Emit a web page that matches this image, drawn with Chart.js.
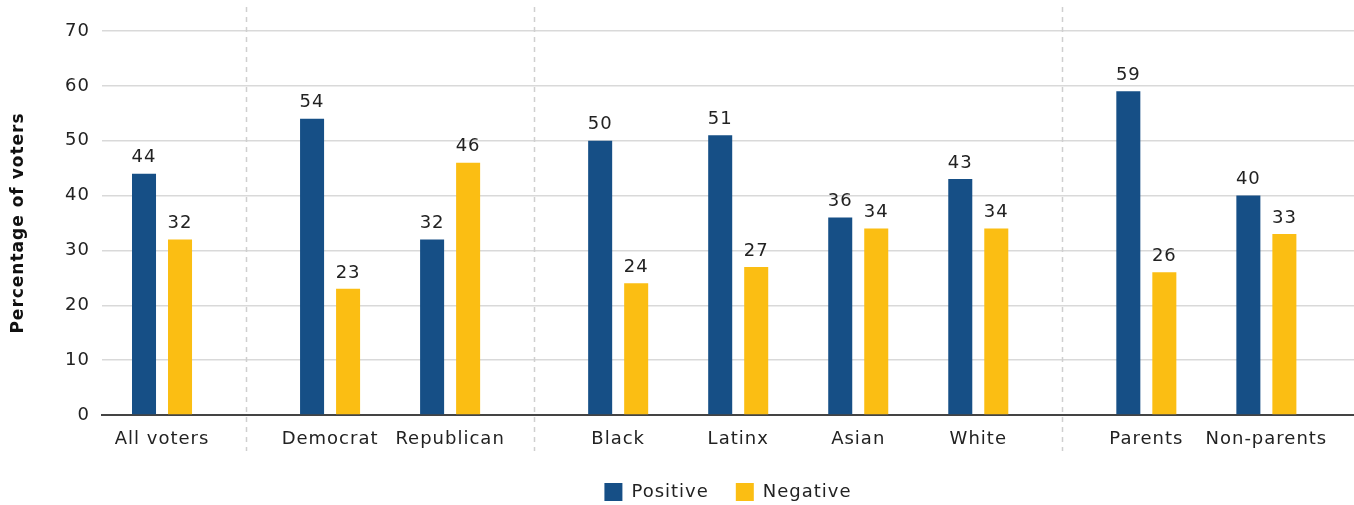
<!DOCTYPE html>
<html>
<head>
<meta charset="utf-8">
<script src="https://cdn.jsdelivr.net/npm/chart.js@4.4.1/dist/chart.umd.min.js"></script>
<style>
  html, body { margin: 0; padding: 0; background: #fff; }
  #wrap { width: 1354px; height: 505px; }
</style>
</head>
<body>
<div id="wrap"><canvas id="grafica"></canvas></div>
<script>
// datos
const categories = ['All voters', 'Democrat', 'Republican', 'Black', 'Latinx', 'Asian', 'White', 'Parents', 'Non-parents'];
const groupSizes = [1, 2, 4, 2];
const positive = [44, 54, 32, 50, 51, 36, 43, 59, 40];
const negative = [32, 23, 46, 24, 27, 34, 34, 26, 33];
const yTicks = [0, 10, 20, 30, 40, 50, 60, 70];

const FONT = '"DejaVu Sans", sans-serif';
const TEXT = '#222';

// posicion de cada categoria en el eje x (grupos separados por un hueco)
const GAP = 0.4;
const pos = [];
const separators = [];
let idx = 0;
groupSizes.forEach((n, g) => {
    for (let i = 0; i < n; i++) {
        pos.push(idx + g * GAP);
        idx++;
    }
    if (g < groupSizes.length - 1) {
        separators.push(idx - 1 + g * GAP + (1 + GAP) / 2);
    }
});

const toPoints = arr => arr.map((v, i) => ({ x: pos[i], y: v }));

// un poco de espacio entre letras, como en el original
const espaciado = {
    id: 'espaciado',
    beforeLayout(chart) { chart.ctx.letterSpacing = '1px'; },
    beforeDraw(chart) { chart.ctx.letterSpacing = '1px'; }
};

// leyenda centrada sobre el area del grafico, no sobre todo el lienzo
const centrarLeyenda = {
    id: 'centrarLeyenda',
    afterLayout(chart) {
        const a = chart.chartArea;
        const shift = (a.left + a.right) / 2 - chart.width / 2;
        chart.legend.left += shift;
        chart.legend.right += shift;
    }
};

// lineas verticales discontinuas entre grupos
const separadores = {
    id: 'separadores',
    beforeDatasetsDraw(chart) {
        const ctx = chart.ctx;
        const xs = chart.scales.x;
        ctx.save();
        ctx.strokeStyle = '#cfcfcf';
        ctx.lineWidth = 1.5;
        ctx.setLineDash([5, 5]);
        separators.forEach(s => {
            const px = Math.round(xs.getPixelForValue(s)) + 0.5;
            ctx.beginPath();
            ctx.moveTo(px, 7);
            ctx.lineTo(px, 451);
            ctx.stroke();
        });
        ctx.restore();
    }
};

// numeros encima de las barras
const etiquetas = {
    id: 'etiquetas',
    afterDatasetsDraw(chart) {
        const ctx = chart.ctx;
        ctx.save();
        ctx.font = '18px ' + FONT;
        ctx.fillStyle = TEXT;
        ctx.textAlign = 'center';
        ctx.textBaseline = 'bottom';
        chart.data.datasets.forEach((ds, d) => {
            chart.getDatasetMeta(d).data.forEach((bar, i) => {
                ctx.fillText(ds.data[i].y, bar.x, bar.y - 7);
            });
        });
        ctx.restore();
    }
};

const miGrafica = new Chart(document.getElementById('grafica').getContext('2d'), {
    type: 'bar',
    data: {
        datasets: [{
            label: 'Positive',
            data: toPoints(positive),
            backgroundColor: '#164f86'
        }, {
            label: 'Negative',
            data: toPoints(negative),
            backgroundColor: '#fbbe13'
        }]
    },
    options: {
        responsive: true,
        maintainAspectRatio: false,
        animation: false,
        categoryPercentage: 0.6,
        barPercentage: 0.667,
        layout: { padding: { top: 31, right: 0, left: 0, bottom: -6 } },
        plugins: {
            tooltip: { enabled: false },
            legend: {
                position: 'bottom',
                labels: {
                    color: TEXT,
                    font: { family: FONT, size: 18 },
                    boxWidth: 18,
                    boxHeight: 18,
                    padding: 27
                }
            }
        },
        scales: {
            x: {
                type: 'linear',
                offset: false,
                min: -0.5,
                max: pos[pos.length - 1] + 0.73,
                afterBuildTicks: scale => {
                    scale.ticks = pos.map(v => ({ value: v }));
                },
                grid: { display: false, drawTicks: false },
                border: { display: true, color: '#444', width: 2 },
                ticks: {
                    autoSkip: false,
                    maxRotation: 0,
                    padding: 14,
                    color: TEXT,
                    font: { family: FONT, size: 18 },
                    callback: (v, i) => categories[i]
                },
                afterFit: scale => { scale.height = 41; }
            },
            y: {
                min: 0,
                max: 70,
                afterBuildTicks: scale => {
                    scale.ticks = yTicks.map(v => ({ value: v }));
                },
                grid: { color: '#d9d9d9', lineWidth: 1.5, drawTicks: false },
                border: { display: false },
                ticks: {
                    padding: 12,
                    color: TEXT,
                    font: { family: FONT, size: 18 }
                },
                title: {
                    display: true,
                    text: 'Percentage of voters',
                    color: '#111',
                    font: { family: FONT, size: 17, weight: 'bold' },
                    padding: { top: 8, bottom: 6 }
                },
                afterFit: scale => { scale.width = 102; }
            }
        }
    },
    plugins: [espaciado, centrarLeyenda, separadores, etiquetas]
});
</script>
</body>
</html>
